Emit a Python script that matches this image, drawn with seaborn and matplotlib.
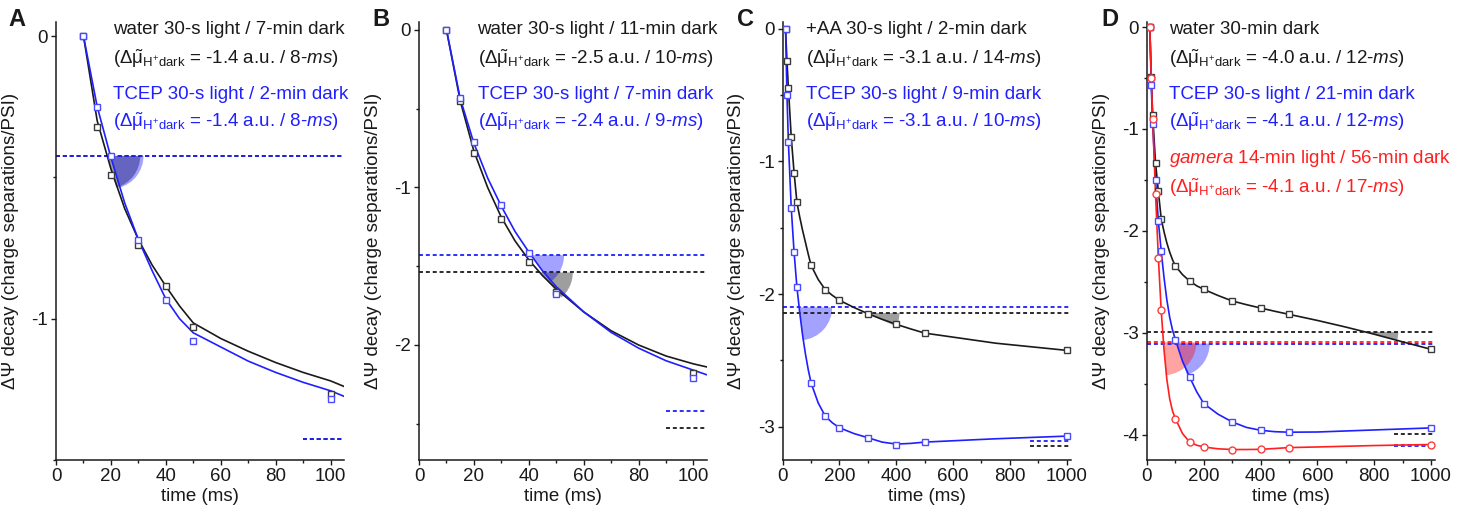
import numpy as np
import matplotlib
matplotlib.use('Agg')
import matplotlib.pyplot as plt
from matplotlib.patches import Wedge
from matplotlib.transforms import ScaledTranslation
from matplotlib.ticker import MultipleLocator, FuncFormatter
import seaborn as sns

# ---- data ---------------------------------------------------------------------
# panel A
a_time = [10, 15, 20, 30, 40, 50, 100]
a_water = [0, -0.32, -0.49, -0.74, -0.883, -1.03, -1.265]
a_tcep = [0, -0.25, -0.424, -0.72, -0.933, -1.08, -1.283]
a_fit_time = [10, 15, 20, 25, 30, 35, 40, 45, 50, 60, 70, 80, 90, 100, 105]
a_water_fit = [0, -0.30, -0.47, -0.61, -0.72, -0.81, -0.885, -0.955, -1.015,
               -1.07, -1.115, -1.155, -1.19, -1.22, -1.24]
a_tcep_fit = [0, -0.25, -0.43, -0.59, -0.72, -0.83, -0.93, -1.0, -1.05,
              -1.10, -1.15, -1.19, -1.225, -1.255, -1.275]
a_level = [-0.424, -0.424]        # water, TCEP
a_dark = [-1.424, -1.424]

# panel B
b_time = [10, 15, 20, 30, 40, 50, 100]
b_water = [0, -0.454, -0.783, -1.203, -1.473, -1.665, -2.177]
b_tcep = [0, -0.435, -0.713, -1.114, -1.418, -1.677, -2.21]
b_fit_time = [10, 15, 20, 25, 30, 35, 40, 45, 50, 60, 70, 80, 90, 100, 105]
b_water_fit = [0, -0.45, -0.77, -1.0, -1.19, -1.34, -1.46, -1.56, -1.645,
               -1.79, -1.91, -2.0, -2.07, -2.12, -2.14]
b_tcep_fit = [0, -0.435, -0.72, -0.94, -1.12, -1.28, -1.41, -1.53, -1.63,
              -1.79, -1.92, -2.02, -2.10, -2.16, -2.19]
b_level = [-1.54, -1.43]
b_dark = [-2.53, -2.42]

# panel C
c_time = [10, 15, 20, 30, 40, 50, 100, 150, 200, 300, 400, 500, 1000]
c_aa = [0, -0.246, -0.445, -0.817, -1.085, -1.307, -1.784, -1.967, -2.047,
        -2.148, -2.228, -2.294, -2.424]
c_tcep = [0, -0.503, -0.854, -1.349, -1.683, -1.947, -2.67, -2.92, -3.007,
          -3.082, -3.14, -3.115, -3.07]
c_fit_time = [10, 15, 20, 30, 40, 50, 60, 70, 80, 90, 100, 125, 150, 175,
              200, 250, 300, 350, 400, 450, 500, 750, 1000]
c_aa_fit = [0, -0.246, -0.445, -0.817, -1.085, -1.307, -1.42, -1.52, -1.61,
            -1.70, -1.784, -1.89, -1.967, -2.01, -2.047, -2.10, -2.148,
            -2.19, -2.228, -2.262, -2.294, -2.37, -2.424]
c_tcep_fit = [0, -0.503, -0.854, -1.349, -1.683, -1.947, -2.14, -2.31, -2.45,
              -2.57, -2.67, -2.82, -2.92, -2.97, -3.007, -3.05, -3.082,
              -3.115, -3.13, -3.125, -3.115, -3.09, -3.07]
c_level = [-2.143, -2.10]
c_dark = [-3.148, -3.11]

# panel D
d_time = [10, 15, 20, 30, 40, 50, 100, 150, 200, 300, 400, 500, 1000]
d_water = [0, -0.49, -0.867, -1.331, -1.613, -1.881, -2.346, -2.493, -2.575,
           -2.689, -2.758, -2.82, -3.163]
d_tcep = [0, -0.572, -0.948, -1.504, -1.904, -2.198, -3.068, -3.435, -3.696,
          -3.876, -3.958, -3.977, -3.935]
d_gamera = [0, -0.497, -0.899, -1.635, -2.263, -2.78, -3.843, -4.073, -4.122,
            -4.147, -4.145, -4.128, -4.098]
d_fit_time = [10, 15, 20, 30, 40, 50, 60, 70, 80, 90, 100, 125, 150, 175,
              200, 250, 300, 350, 400, 450, 500, 600, 700, 800, 900, 1000]
d_water_fit = [0, -0.49, -0.867, -1.331, -1.613, -1.881, -2.01, -2.12, -2.21,
               -2.285, -2.346, -2.43, -2.493, -2.54, -2.575, -2.635, -2.689,
               -2.725, -2.758, -2.79, -2.82, -2.88, -2.945, -3.015, -3.09,
               -3.163]
d_tcep_fit = [0, -0.572, -0.948, -1.504, -1.904, -2.198, -2.46, -2.68, -2.85,
              -2.975, -3.068, -3.28, -3.435, -3.58, -3.696, -3.80, -3.876,
              -3.93, -3.958, -3.972, -3.977, -3.975, -3.965, -3.955, -3.945,
              -3.935]
d_gamera_fit = [0, -0.497, -0.899, -1.635, -2.263, -2.78, -3.17, -3.46, -3.65,
                -3.77, -3.843, -3.99, -4.073, -4.105, -4.122, -4.14, -4.147,
                -4.147, -4.145, -4.137, -4.128, -4.122, -4.115, -4.108,
                -4.103, -4.098]
d_level = [-2.993, -3.107, -3.094]
d_dark = [-3.99, -4.108, -4.098]

MU = r'($\mathrm{\Delta\tilde{\mu}_{H^{+}dark}}$'
a_texts = ['water 30-s light / 7-min dark',
           MU + r' = -1.4 a.u. / $\mathit{8}$-$\mathit{ms}$)',
           'TCEP 30-s light / 2-min dark',
           MU + r' = -1.4 a.u. / $\mathit{8}$-$\mathit{ms}$)']
b_texts = ['water 30-s light / 11-min dark',
           MU + r' = -2.5 a.u. / $\mathit{10}$-$\mathit{ms}$)',
           'TCEP 30-s light / 7-min dark',
           MU + r' = -2.4 a.u. / $\mathit{9}$-$\mathit{ms}$)']
c_texts = ['+AA 30-s light / 2-min dark',
           MU + r' = -3.1 a.u. / $\mathit{14}$-$\mathit{ms}$)',
           'TCEP 30-s light / 9-min dark',
           MU + r' = -3.1 a.u. / $\mathit{10}$-$\mathit{ms}$)']
d_texts = ['water 30-min dark',
           MU + r' = -4.0 a.u. / $\mathit{12}$-$\mathit{ms}$)',
           'TCEP 30-s light / 21-min dark',
           MU + r' = -4.1 a.u. / $\mathit{12}$-$\mathit{ms}$)',
           r'$\mathit{gamera}$ 14-min light / 56-min dark',
           MU + r' = -4.1 a.u. / $\mathit{17}$-$\mathit{ms}$)']

# ---- style -------------------------------------------------------------------
sns.set_theme(style='ticks')
plt.rcParams['font.family'] = ['Liberation Sans', 'DejaVu Sans']
plt.rcParams['mathtext.fontset'] = 'custom'
plt.rcParams['mathtext.rm'] = 'Liberation Sans'
plt.rcParams['mathtext.it'] = 'Liberation Sans:italic'
plt.rcParams['mathtext.bf'] = 'Liberation Sans:bold'
plt.rcParams['axes.unicode_minus'] = False

BLACK, BLUE, RED = '#1a1a1a', '#1f1fff', '#ff1f1f'
MEC = {BLACK: '#3a3a3a', BLUE: '#4a4aff', RED: '#ff3a3a'}
FILL = {BLACK: ('#000000', 0.38), BLUE: ('#0000ff', 0.36), RED: ('#ff0000', 0.36)}
FS = 13.5

fig = plt.figure(figsize=(14.63, 5.16), dpi=100)
lefts = [0.0383, 0.2864, 0.535, 0.784]
axes = [fig.add_axes([l, 0.1085, 0.197, 0.849]) for l in lefts]


def crossing(xs, ys, level):
    for i in range(len(xs) - 1):
        if (ys[i] - level) * (ys[i + 1] - level) <= 0 and ys[i] != ys[i + 1]:
            t = (level - ys[i]) / (ys[i + 1] - ys[i])
            return i, xs[i] + t * (xs[i + 1] - xs[i])
    return None, None


def wedge(ax, xs, ys, level, color):
    fc, alpha = FILL[color]
    i, xc = crossing(xs, ys, level)
    p0 = ax.transData.transform((xs[i], ys[i]))
    p1 = ax.transData.transform((xs[i + 1], ys[i + 1]))
    ang = np.degrees(np.arctan2(p1[1] - p0[1], p1[0] - p0[0]))
    tr = fig.dpi_scale_trans + ScaledTranslation(xc, level, ax.transData)
    ax.add_patch(Wedge((0, 0), 0.33, ang, 0, transform=tr, facecolor=fc,
                       alpha=alpha, edgecolor='none', zorder=1))


def setup(ax, xmax, ymin, xmaj, xmin_step):
    ax.set_xlim(0, xmax)
    ax.set_ylim(ymin, 0.05)
    ax.xaxis.set_major_locator(MultipleLocator(xmaj))
    ax.xaxis.set_minor_locator(MultipleLocator(xmin_step))
    ax.yaxis.set_major_locator(MultipleLocator(1))
    ax.yaxis.set_minor_locator(MultipleLocator(0.5))
    ax.yaxis.set_major_formatter(FuncFormatter(lambda v, p: f'{v:g}'))
    ax.tick_params(which='major', length=3.8, width=1.0, labelsize=FS, pad=2,
                   color='k', labelcolor='#1a1a1a')
    ax.tick_params(which='minor', length=2.4, width=1.0, color='k')
    sns.despine(ax=ax)
    for s in ['left', 'bottom']:
        ax.spines[s].set_linewidth(1.1)
        ax.spines[s].set_color('k')
    ax.set_xlabel('time (ms)', fontsize=FS, labelpad=2, color='#1a1a1a')
    ax.set_ylabel('ΔΨ decay (charge separations/PSI)', fontsize=FS,
                  color='#1a1a1a')
    ax.yaxis.set_label_coords(-0.13, 0.5)


def dashed(ax, level, dark, color, seg_start):
    ax.axhline(level, color=color, lw=1.3, ls=(0, (2.2, 1.6)), zorder=2)
    ax.hlines(dark, seg_start, ax.get_xlim()[1], color=color, lw=1.3,
              ls=(0, (2.2, 1.6)), zorder=2)


def points(ax, x, y, color, marker='s'):
    sns.lineplot(x=x, y=y, ax=ax, color=color, lw=0, marker=marker, ms=5,
                 mfc='white', mec=MEC[color], mew=1.0, zorder=3)


def curve(ax, x, y, color):
    sns.lineplot(x=x, y=y, ax=ax, color=color, lw=1.2, zorder=2.5)


def legend_text(ax, xpos, texts, colors):
    ys = [0.9715, 0.905, 0.825, 0.761, 0.677, 0.6085]
    for t, c, yy in zip(texts, colors, ys):
        ax.text(xpos, yy, t, transform=ax.transAxes, fontsize=FS, color=c,
                va='baseline', ha='left')


def panel(ax, series, levels, darks, seg_start, xpos, texts):
    # series: list of (points_x, points_y, fit_x, fit_y, color, marker)
    for lev, dk, s in zip(levels, darks, series):
        dashed(ax, lev, dk, s[4], seg_start)
    for lev, s in zip(levels, series):
        wedge(ax, s[2], s[3], lev, s[4])
    for s in series:
        curve(ax, s[2], s[3], s[4])
    for s in series:
        points(ax, s[0], s[1], s[4], s[5])
    legend_text(ax, xpos, texts, [c for s in series for c in (s[4], s[4])])


setup(axes[0], 105, -1.5, 20, 10)
panel(axes[0], [(a_time, a_water, a_fit_time, a_water_fit, BLACK, 's'),
                (a_time, a_tcep, a_fit_time, a_tcep_fit, BLUE, 's')],
      a_level, a_dark, 90, 0.198, a_texts)

setup(axes[1], 105, -2.73, 20, 10)
panel(axes[1], [(b_time, b_water, b_fit_time, b_water_fit, BLACK, 's'),
                (b_time, b_tcep, b_fit_time, b_tcep_fit, BLUE, 's')],
      b_level, b_dark, 90, 0.203, b_texts)

setup(axes[2], 1015, -3.25, 200, 100)
panel(axes[2], [(c_time, c_aa, c_fit_time, c_aa_fit, BLACK, 's'),
                (c_time, c_tcep, c_fit_time, c_tcep_fit, BLUE, 's')],
      c_level, c_dark, 870, 0.08, c_texts)

setup(axes[3], 1015, -4.25, 200, 100)
panel(axes[3], [(d_time, d_water, d_fit_time, d_water_fit, BLACK, 's'),
                (d_time, d_tcep, d_fit_time, d_tcep_fit, BLUE, 's'),
                (d_time, d_gamera, d_fit_time, d_gamera_fit, RED, 'o')],
      d_level, d_dark, 870, 0.077, d_texts)

for letter, px in zip('ABCD', [17, 381, 746, 1110]):
    fig.text(px / 1463, 1 - 20 / 516, letter, fontsize=17, fontweight='bold',
             ha='center', va='center', color='k')

fig.savefig('out.png', dpi=100)
